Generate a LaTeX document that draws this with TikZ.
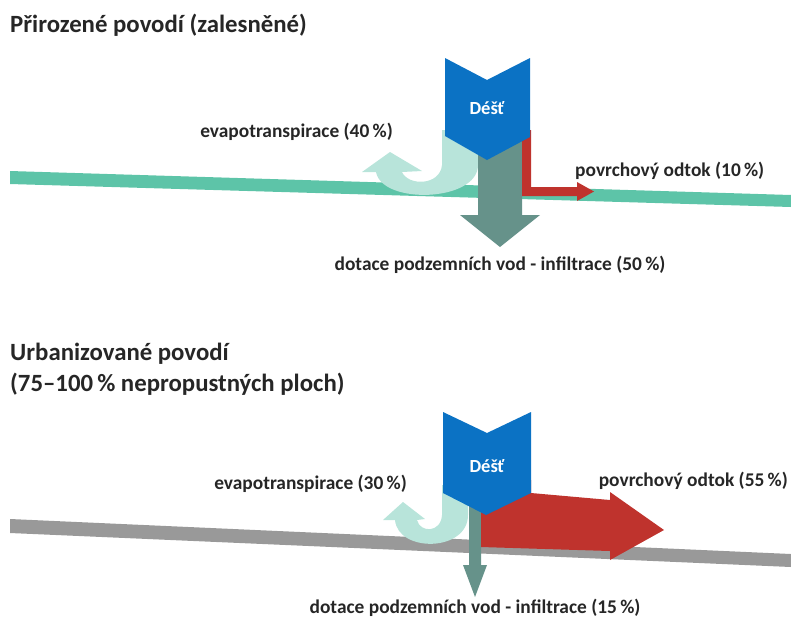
\documentclass[tikz,border=0pt]{standalone}
\usepackage{fontspec}
\setmainfont{Carlito}
\definecolor{rainblue}{HTML}{0B72C4}
\definecolor{bandteal}{HTML}{5DC4A8}
\definecolor{evapteal}{HTML}{B8E4DA}
\definecolor{infilgray}{HTML}{66928A}
\definecolor{runoffred}{HTML}{BF332D}
\definecolor{roadgray}{HTML}{999999}
\definecolor{labeltext}{HTML}{262626}
\tikzset{
  heading/.style={font=\bfseries\fontsize{24.8}{29}\selectfont, text=labeltext, inner sep=0pt},
  flowlabel/.style={font=\bfseries\fontsize{19.4}{23}\selectfont, text=labeltext, inner sep=0pt},
  rainlabel/.style={font=\bfseries\fontsize{18.5}{22}\selectfont, text=white, inner sep=0pt},
}
\begin{document}
\begin{tikzpicture}[x=1pt,y=-1pt]
  \useasboundingbox (0,0) rectangle (791,622);
  \clip (0,0) rectangle (791,622);
  % Top: natural (forested) catchment
  \node[heading, anchor=base west] (titleA) at (10,32) {Přirozené povodí (zalesněné)};
  % ground surface
  \fill[bandteal] (10,171) -- (791,195) -- (791,207) -- (10,184) -- cycle;
  % evapotranspiration, J-shaped back up
  \fill[evapteal] (478,130) -- (478,165) .. controls (478,202) and (382,205) .. (376,172)
    -- (362,172) -- (390,152) -- (422,171) -- (402,172)
    .. controls (408,186) and (440,186) .. (442,165) -- (442,130) -- cycle;
  % infiltration
  \fill[infilgray] (478,130) -- (522,130) -- (522,215) -- (540,215) -- (500,247)
    -- (460,215) -- (478,215) -- cycle;
  % surface runoff
  \fill[runoffred] (522,130) -- (531,130) -- (531,187) -- (577,187) -- (577,182)
    -- (594,191.5) -- (577,201) -- (577,196) -- (522,196) -- cycle;
  % rain
  \fill[rainblue] (445,58) -- (487,80) -- (530,58) -- (530,137) -- (487,160) -- (445,136) -- cycle;
  \node[rainlabel] (rainA) at (487,108) {Déšť};
  % labels
  \node[flowlabel, anchor=base east] (evapA) at (393,137) {evapotranspirace (40\,\%)};
  \node[flowlabel, anchor=base west] (runoffA) at (575,176) {povrchový odtok (10\,\%)};
  \node[flowlabel, anchor=base] (infilA) at (500,270) {dotace podzemních vod - infiltrace (50\,\%)};

  % Bottom: urbanised catchment
  \node[heading, anchor=base west] (titleB) at (10,360) {Urbanizované povodí};
  \node[heading, anchor=base west] (titleC) at (10,391) {(75–100\,\% nepropustných ploch)};
  % ground surface
  \fill[roadgray] (10,519) -- (791,554) -- (791,567) -- (10,533) -- cycle;
  % evapotranspiration
  \fill[evapteal] (468,485) -- (468,515) .. controls (468,552) and (398,553) .. (395,520)
    -- (383,520) -- (403,502) -- (425,519) -- (417,520)
    .. controls (420,533) and (441,533) .. (442,515) -- (442,485) -- cycle;
  % infiltration
  \fill[infilgray] (469,485) -- (481,485) -- (481,565) -- (487,565) -- (475,597)
    -- (463,565) -- (469,565) -- cycle;
  % surface runoff
  \fill[runoffred] (481,480) -- (531,480) -- (531,493) -- (610,500) -- (610,492)
    -- (664,530) -- (610,560) -- (610,551) -- (481,547) -- cycle;
  % rain
  \fill[rainblue] (443,412) -- (487,433) -- (531,412) -- (531,493) -- (486,515) -- (443,493) -- cycle;
  \node[rainlabel] (rainB) at (487,466) {Déšť};
  % labels
  \node[flowlabel, anchor=base east] (evapB) at (407,489) {evapotranspirace (30\,\%)};
  \node[flowlabel, anchor=base east] (runoffB) at (788,486) {povrchový odtok (55\,\%)};
  \node[flowlabel, anchor=base] (infilB) at (475,613) {dotace podzemních vod - infiltrace (15\,\%)};
\end{tikzpicture}
\end{document}
